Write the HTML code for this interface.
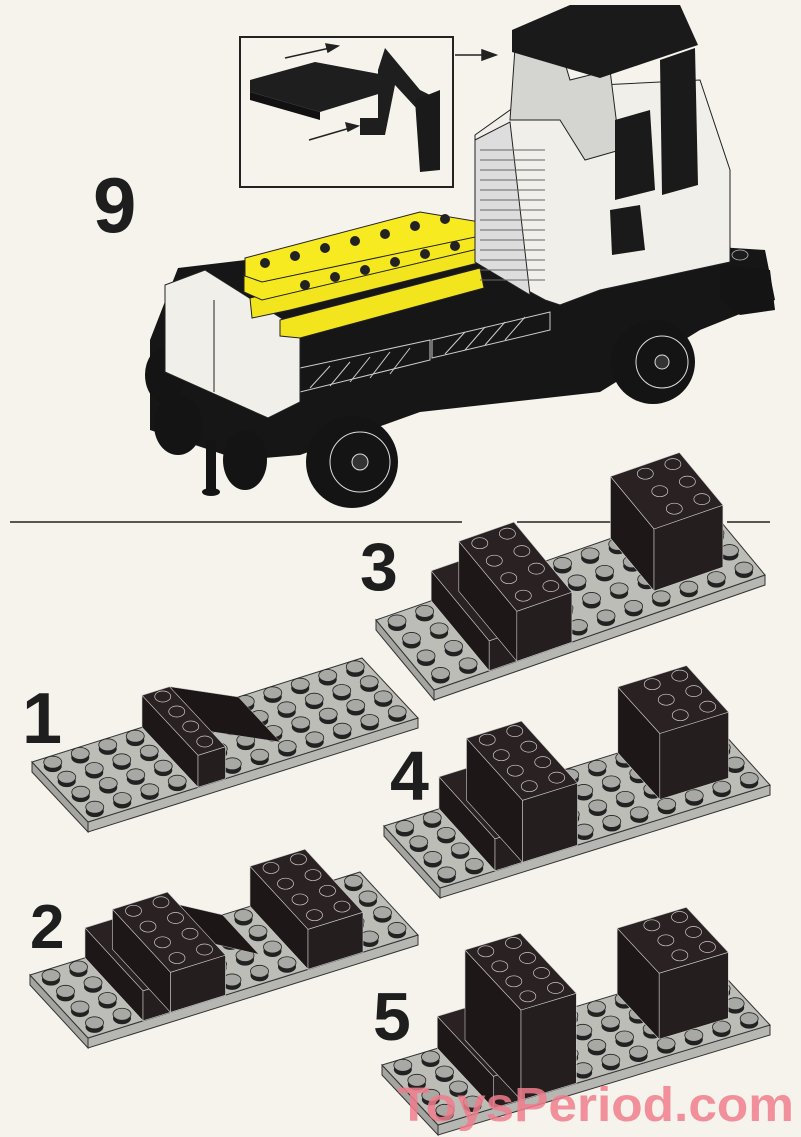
<!DOCTYPE html>
<html><head><meta charset="utf-8"><style>
html,body{margin:0;padding:0;background:#f5f3ec;}
svg{display:block;}
.n{font-family:"Liberation Sans",sans-serif;font-weight:bold;fill:#1e1e1e;}
</style></head><body>
<svg id="s" width="801" height="1137" viewBox="0 0 801 1137" xmlns="http://www.w3.org/2000/svg">
<rect width="801" height="1137" fill="#f5f3ec"/>
<g stroke="#222" stroke-width="1.6">
<line x1="10" y1="522" x2="462" y2="522"/><line x1="517" y1="522" x2="615" y2="522"/><line x1="727" y1="522" x2="770" y2="522"/>
</g>
<text class="n" x="93" y="232" font-size="78">9</text>
<text class="n" x="360" y="590" font-size="68">3</text>
<text class="n" x="22" y="743" font-size="72">1</text>
<text class="n" x="390" y="800" font-size="70">4</text>
<text class="n" x="30" y="948" font-size="62">2</text>
<text class="n" x="373" y="1040" font-size="68">5</text>

<rect x="240" y="37" width="213" height="150" fill="none" stroke="#222" stroke-width="2"/>
<polygon points="250,80 315,62 385,75 385,92 320,112 250,92" fill="#1e1e1e"/>
<polygon points="250,92 320,112 320,120 250,100" fill="#111"/>
<polygon points="378,70 385,48 395,60 420,90 430,95 430,160 420,165 418,110 395,85 385,135 360,135 360,118 378,118" fill="#1e1e1e"/>
<polygon points="415,100 440,90 440,170 420,172" fill="#1a1a1a"/>
<g stroke="#222" stroke-width="1.5" fill="#222">
<line x1="285" y1="58" x2="330" y2="48"/><polygon points="338,46 326,44 328,52"/>
<line x1="309" y1="140" x2="350" y2="128"/><polygon points="358,126 346,123 348,131"/>
<line x1="455" y1="55" x2="485" y2="55"/><polygon points="496,55 482,50 482,60"/>
</g>

<g>
<polygon points="150,340 178,268 480,232 765,250 775,300 700,330 600,392 420,412 300,455 240,460 150,430" fill="#161616"/>
<ellipse cx="165" cy="375" rx="20" ry="28" fill="#141414"/>
<ellipse cx="178" cy="425" rx="24" ry="30" fill="#141414"/>
<rect x="206" y="440" width="10" height="50" fill="#141414"/>
<ellipse cx="211" cy="492" rx="9" ry="4" fill="#141414"/>
<ellipse cx="245" cy="460" rx="22" ry="30" fill="#141414"/>
<circle cx="352" cy="462" r="46" fill="#141414"/>
<circle cx="360" cy="462" r="30" fill="none" stroke="#ddd" stroke-width="1"/>
<circle cx="360" cy="462" r="8" fill="#333" stroke="#ddd" stroke-width="1"/>
<circle cx="653" cy="362" r="42" fill="#141414"/>
<circle cx="662" cy="362" r="26" fill="none" stroke="#ddd" stroke-width="1"/>
<circle cx="662" cy="362" r="7" fill="#333" stroke="#ddd" stroke-width="1"/>
<polygon points="720,265 770,270 775,310 740,315 720,300" fill="#141414"/>
<g stroke="#ccc" stroke-width="1" fill="none">
<polygon points="300,368 430,340 430,360 300,392"/><polygon points="432,340 550,312 550,330 432,358"/>
<line x1="310" y1="388" x2="330" y2="366"/><line x1="330" y1="386" x2="350" y2="362"/><line x1="350" y1="382" x2="370" y2="357"/><line x1="370" y1="378" x2="390" y2="352"/><line x1="390" y1="374" x2="410" y2="348"/>
<line x1="445" y1="354" x2="465" y2="332"/><line x1="465" y1="350" x2="485" y2="327"/><line x1="485" y1="345" x2="505" y2="322"/><line x1="505" y1="340" x2="525" y2="317"/>
</g>
<g fill="#1c1c1c" stroke="#bbb" stroke-width="0.8">
<ellipse cx="560" cy="292" rx="8" ry="5"/><ellipse cx="590" cy="285" rx="8" ry="5"/><ellipse cx="620" cy="278" rx="8" ry="5"/><ellipse cx="650" cy="272" rx="8" ry="5"/><ellipse cx="680" cy="266" rx="8" ry="5"/><ellipse cx="710" cy="260" rx="8" ry="5"/><ellipse cx="740" cy="255" rx="8" ry="5"/>
</g>
<polygon points="165,285 205,270 300,330 300,402 268,418 165,372" fill="#f0efea" stroke="#222" stroke-width="1"/>
<line x1="214" y1="300" x2="214" y2="392" stroke="#222"/>
<g stroke="#222" stroke-width="1">
<polygon points="250,298 425,256 480,243 482,262 290,310 252,318" fill="#f2e51e"/>
<polygon points="244,272 455,222 482,232 482,248 262,300 244,292" fill="#f5e81f"/>
<polygon points="245,258 420,212 480,222 480,236 262,282 245,276" fill="#f7ea20"/>
<polygon points="280,320 480,268 484,288 300,338 280,336" fill="#f2e51e"/>
</g>
<g fill="#222"><circle cx="265" cy="263" r="5"/><circle cx="295" cy="256" r="5"/><circle cx="325" cy="248" r="5"/><circle cx="355" cy="241" r="5"/><circle cx="385" cy="234" r="5"/><circle cx="415" cy="226" r="5"/><circle cx="445" cy="219" r="5"/>
<circle cx="305" cy="285" r="5"/><circle cx="335" cy="277" r="5"/><circle cx="365" cy="270" r="5"/><circle cx="395" cy="262" r="5"/><circle cx="425" cy="254" r="5"/><circle cx="455" cy="246" r="5"/></g>
<polygon points="475,135 510,110 600,85 700,80 730,170 730,262 600,290 560,305 545,300 475,262" fill="#f0efea" stroke="#222" stroke-width="1"/>
<polygon points="475,140 510,122 530,295 475,262" fill="#ddd" stroke="#222" stroke-width="1"/>
<g stroke="#666" stroke-width="1">
<line x1="480" y1="150" x2="545" y2="150"/><line x1="480" y1="160" x2="545" y2="160"/><line x1="480" y1="170" x2="545" y2="170"/><line x1="480" y1="180" x2="545" y2="180"/><line x1="480" y1="190" x2="545" y2="190"/><line x1="480" y1="200" x2="545" y2="200"/><line x1="480" y1="210" x2="545" y2="210"/><line x1="480" y1="220" x2="545" y2="220"/><line x1="480" y1="230" x2="545" y2="230"/><line x1="480" y1="240" x2="545" y2="240"/><line x1="480" y1="250" x2="545" y2="250"/><line x1="480" y1="260" x2="545" y2="260"/><line x1="480" y1="270" x2="545" y2="270"/><line x1="480" y1="280" x2="545" y2="280"/>
</g>
<polygon points="515,48 555,30 570,80 610,70 620,150 585,160 560,120 510,120" fill="#d4d4d0" stroke="#222" stroke-width="1"/>
<polygon points="512,30 570,5 680,5 698,45 600,78 512,52" fill="#1a1a1a"/>
<polygon points="660,60 695,48 698,185 662,195" fill="#1a1a1a"/>
<polygon points="615,120 650,110 655,190 615,200" fill="#1a1a1a"/>
<polygon points="610,210 640,205 645,250 612,255" fill="#1a1a1a"/>
</g>

<g id="plates"></g>

<text x="398" y="1121" font-family="'Liberation Sans',sans-serif" font-weight="bold" font-size="48" fill="#f07d8c" fill-opacity="0.85" textLength="396" lengthAdjust="spacingAndGlyphs">ToysPeriod.com</text>
</svg>
<script>
var NS="http://www.w3.org/2000/svg",G=document.getElementById("plates");
function el(t,a){var e=document.createElementNS(NS,t);for(var k in a)e.setAttribute(k,a[k]);G.appendChild(e);return e;}
function pts(a){return a.map(function(p){return p[0].toFixed(1)+","+p[1].toFixed(1)}).join(" ");}
function plate(L,B,R,boxes,wedges){
 var e1=[(R[0]-B[0])/12,(R[1]-B[1])/12],e2=[(L[0]-B[0])/4,(L[1]-B[1])/4];
 function P(u,v,h){return [B[0]+u*e1[0]+v*e2[0],B[1]+u*e1[1]+v*e2[1]-(h||0)];}
 var T=P(12,4),t=10;
 el("polygon",{points:pts([L,B,[B[0],B[1]+t],[L[0],L[1]+t]]),fill:"#a4a4a0",stroke:"#333","stroke-width":1});
 el("polygon",{points:pts([B,R,[R[0],R[1]+t],[B[0],B[1]+t]]),fill:"#b6b6b2",stroke:"#333","stroke-width":1});
 el("polygon",{points:pts([L,B,R,T]),fill:"#bdbdb8",stroke:"#333","stroke-width":1});
 for(var v=3;v>=0;v--)for(var u=11;u>=0;u--){var c=P(u+0.5,v+0.5);
  el("ellipse",{cx:c[0],cy:c[1]+1,rx:9,ry:6,fill:"#222"});
  el("ellipse",{cx:c[0],cy:c[1]-3,rx:9,ry:6,fill:"#a8a8a4",stroke:"#222","stroke-width":0.8});}
 (wedges||[]).forEach(function(w){ // slope from box face at u0 height h down to u1
  el("polygon",{points:pts([P(w[0],w[2],w[4]),P(w[0],w[3],w[4]),P(w[1],w[3]),P(w[1],w[2])]),fill:"#1d1616",stroke:"#bbb","stroke-width":0.5});
 });
 boxes.forEach(function(b){var u0=b[0],u1=b[1],v0=b[2],v1=b[3],h=b[4];
  el("polygon",{points:pts([P(u0,v1),P(u0,v0),P(u0,v0,h),P(u0,v1,h)]),fill:"#1d1717",stroke:"#ccc","stroke-width":0.6});
  el("polygon",{points:pts([P(u0,v0),P(u1,v0),P(u1,v0,h),P(u0,v0,h)]),fill:"#251e1e",stroke:"#ccc","stroke-width":0.6});
  el("polygon",{points:pts([P(u0,v0,h),P(u1,v0,h),P(u1,v1,h),P(u0,v1,h)]),fill:"#2a2222",stroke:"#ccc","stroke-width":0.6});
  if(b[5])for(var v=v1-1;v>=v0;v--)for(var u=u1-1;u>=u0;u--){var c=P(u+0.5,v+0.5,h);
   el("ellipse",{cx:c[0],cy:c[1]-2,rx:8,ry:5.5,fill:"#2a2222",stroke:"#ccc","stroke-width":0.7});}
 });
}
plate([32,762],[88,822],[418,718],[[4,5,0,4,32,1]],[[5,7.5,1,4,32]]);
plate([376,620],[434,690],[765,575],[[2,5,0,4,30,0],[3,5,0,4,50,1],[8.5,11,1,4,62,1]]);
plate([384,826],[440,888],[770,785],[[2,5,0,4,32,0],[3,5,0,4,62,1],[8.5,11,1,4,66,1]]);
plate([30,975],[88,1038],[418,935],[[2,5,0,4,30,0],[3,5,0,4,40,1],[8,10,0,4,40,1]],[[5,7,1.5,4,30]]);
plate([382,1065],[438,1125],[770,1025],[[2,5,0,4,32,0],[3,5,0,4,90,1],[8.5,11,1,4,66,1]]);
</script>
</body></html>
